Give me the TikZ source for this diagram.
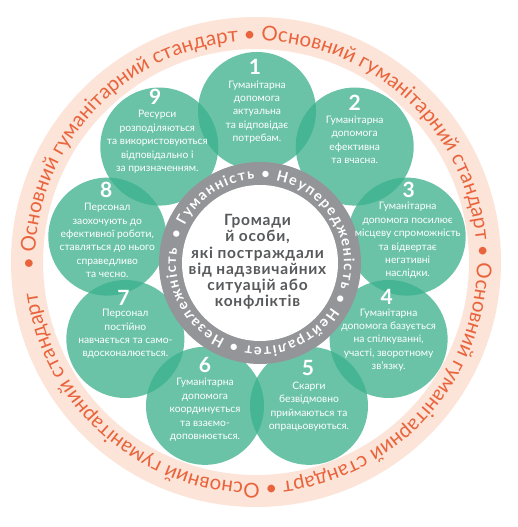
\documentclass[tikz,border=0pt]{standalone}
\usepackage{fontspec}
\setmainfont{Lato}
\newfontfamily\centerfont[LetterSpace=5]{Lato}
\usetikzlibrary{decorations.text}
\definecolor{peach}{HTML}{FCE4D8}
\definecolor{ringtxt}{HTML}{E9643C}
\definecolor{mint}{HTML}{6BC3A7}
\definecolor{lens}{HTML}{45B594}
\definecolor{ringgray}{HTML}{939598}
\definecolor{darkgray}{HTML}{58595B}
\begin{document}
\begin{tikzpicture}[x=1pt,y=1pt,
  circtext/.style={text=white, align=center, inner sep=0pt, font=\fontsize{10.3}{13.4}\selectfont},
  numtext/.style={text=white, inner sep=0pt, font=\fontsize{21}{21}\selectfont\bfseries},
  greencirc/.style={fill=mint},
  lensfill/.style={fill=lens}]
\useasboundingbox (0,0) rectangle (517,527);
\fill[white] (0,0) rectangle (517,527);
\coordinate (P) at (256,265);
\coordinate (C) at (257,264);
\coordinate (G) at (260,264);
% outer peach ring
\fill[peach, even odd rule] (P) circle[radius=245] (P) circle[radius=213];
\path[decorate, decoration={text along path, text align={fit to path},
  text={|\fontsize{20.5}{20.5}\selectfont\color{ringtxt}|• Основний гуманітарний стандарт • Основний гуманітарний стандарт • Основний гуманітарний стандарт • Основний гуманітарний стандарт}}]
  (P) ++(182:221) arc[start angle=182, end angle=-172, radius=221];
% green circles
\foreach \i/\a in {1/90,2/50,3/10,4/-30,5/-70,6/-110,7/-150,8/170,9/130}
  \path (C) ++(\a:152) coordinate (g\i);
\foreach \i in {1,...,9} \fill[greencirc] (g\i) circle[radius=59];
\foreach \i/\j in {1/2,2/3,3/4,4/5,5/6,6/7,7/8,8/9,9/1} {
  \begin{scope}
    \clip (g\i) circle[radius=59];
    \fill[lensfill] (g\j) circle[radius=59];
  \end{scope}
}
% gray ring
\fill[ringgray] (G) circle[radius=101];
\fill[white] (G) circle[radius=78];
\path[decorate, decoration={text along path, text align={fit to path},
  text={|\fontsize{14.5}{14.5}\selectfont\bfseries\color{white}|• Гуманність • Неупередженість • Нейтралітет • Незалежність}}]
  (G) ++(164:84) arc[start angle=164, end angle=-190, radius=84];
% center text
\node[font=\centerfont\bfseries\fontsize{15.5}{16.2}\selectfont, text=darkgray, align=center, inner sep=0pt] (centre) at (257.5,265)
  {Громади\\й особи,\\які постраждали\\від надзвичайних\\ситуацій або\\конфліктів};
% numbers and texts
\node[numtext] (n1) at ([shift={(-2,44)}]g1) {1};
\node[circtext] (t1) at ([shift={(0,-1)}]g1) {Гуманітарна\\допомога\\актуальна\\та відповідає\\потребам.};
\node[numtext] (n2) at ([shift={(0,43.6)}]g2) {2};
\node[circtext] (t2) at ([shift={(0,6.6)}]g2) {Гуманітарна\\допомога\\ефективна\\та вчасна.};
\node[numtext] (n3) at ([shift={(2,46.6)}]g3) {3};
\node[circtext] (t3) at ([shift={(1,-4)}]g3) {Гуманітарна\\допомога посилює\\місцеву спроможність\\та відвертає\\негативні\\наслідки.};
\node[numtext] (n4) at ([shift={(-2,42)}]g4) {4};
\node[circtext] (t4) at ([shift={(0,-1)}]g4) {Гуманітарна\\допомога базується\\на спілкуванні,\\участі, зворотному\\зв’язку.};
\node[numtext] (n5) at ([shift={(-1,38)}]g5) {5};
\node[circtext] (t5) at ([shift={(0,-1)}]g5) {Скарги\\безвідмовно\\приймаються та\\опрацьовуються.};
\node[numtext] (n6) at ([shift={(0,41)}]g6) {6};
\node[circtext] (t6) at ([shift={(0,-4)}]g6) {Гуманітарна\\допомога\\координується\\та взаємо-\\доповнюється.};
\node[numtext] (n7) at ([shift={(-2,41)}]g7) {7};
\node[circtext] (t7) at ([shift={(0,5)}]g7) {Персонал\\постійно\\навчається та само-\\вдосконалюється.};
\node[numtext] (n8) at ([shift={(-1,46.6)}]g8) {8};
\node[circtext] (t8) at ([shift={(0,-4)}]g8) {Персонал\\заохочують до\\ефективної роботи,\\ставляться до нього\\справедливо\\та чесно.};
\node[numtext] (n9) at ([shift={(-4,49.6)}]g9) {9};
\node[circtext] (t9) at ([shift={(-2,4.6)}]g9) {Ресурси\\розподіляються\\та використовуються\\відповідально і\\за призначенням.};
\end{tikzpicture}
\end{document}
